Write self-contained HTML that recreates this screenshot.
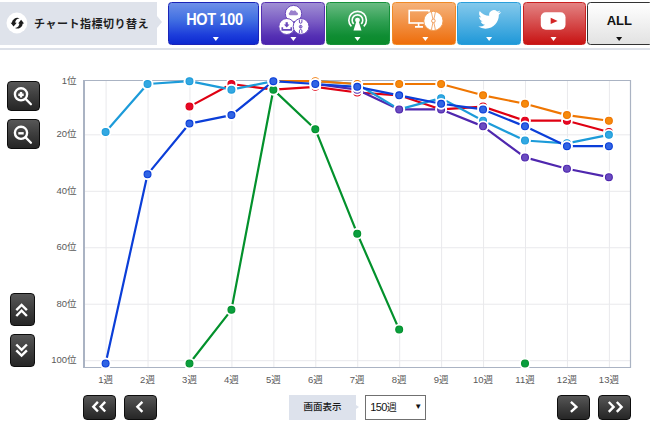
<!DOCTYPE html><html><head><meta charset="utf-8"><title>chart</title><style>
*{margin:0;padding:0;box-sizing:border-box}
html,body{width:650px;height:431px;overflow:hidden;background:#fff}
body{position:relative;font-family:"Liberation Sans","Noto Sans CJK JP",sans-serif}
.abs{position:absolute}
.chart{position:absolute;left:0;top:0}
.ax{font-family:"Liberation Sans","Noto Sans CJK JP",sans-serif;font-size:9.5px;fill:#5a5a5a}
.hdr{left:0;top:2px;width:157px;height:42.5px;background:#dfe3eb}
.hdr-arrow{left:157px;top:16px;width:0;height:0;border-top:6px solid transparent;border-bottom:6px solid transparent;border-left:5px solid #dfe3eb}
.hdrline{left:0;top:47.5px;width:650px;height:2px;background:#dde1e9}
.hdr-t{left:34px;top:14.5px;font-size:11px;font-weight:bold;color:#1e1e1e;white-space:nowrap;font-family:"Liberation Sans","Noto Sans CJK JP",sans-serif;letter-spacing:0.5px}
.btn{top:1.5px;height:43px;border-radius:3.5px;border:1px solid rgba(0,0,0,.25)}
.tri{position:absolute;left:50%;bottom:4px;margin-left:-3px;width:0;height:0;border-left:3.5px solid transparent;border-right:3.5px solid transparent;border-top:4.5px solid #fff}
.b-hot{left:168.2px;width:91.2px;background:linear-gradient(#6e90e8,#4270e2 40%,#1c3ddb 78%,#0c28d0);border-color:#1a24b8}
.b-pur{left:261px;width:63.5px;background:linear-gradient(#a08fd4,#7a5cc4 45%,#5530b4 80%,#4a22ae);border-color:#5530b0}
.b-grn{left:326px;width:64px;background:linear-gradient(#69bb82,#2f9f52 45%,#0f8d33 80%,#0a8a2a);border-color:#16913a}
.b-org{left:392px;width:63.5px;background:linear-gradient(#f5b27a,#ee6d0b);border-color:#f08a25}
.b-tw{left:456.5px;width:64.5px;background:linear-gradient(#84c9ec,#1f98d8);border-color:#2a9fdb}
.b-yt{left:522.5px;width:63.5px;background:linear-gradient(#e38383,#c81313);border-color:#c92020}
.b-all{left:587px;width:66px;background:linear-gradient(#fff,#e2e2e2);border:1.3px solid #333}
.hot-t{position:absolute;left:0;right:0;top:8.5px;padding-left:2px;text-align:center;color:#fff;font-weight:bold;font-size:15.8px;letter-spacing:-0.3px;transform:scaleX(0.915)}
.all-t{position:absolute;left:0;right:0;top:10.3px;text-align:center;color:#111;font-weight:bold;font-size:13px;padding-right:1.4px}
.dk{background:linear-gradient(#575757,#3d3d3d 50%,#262626);border:1.4px solid #0d0d0d;border-radius:4px}
.lbl2{left:289px;top:395px;width:67px;height:24.6px;background:#dde2ec;font-size:9.5px;font-weight:500;color:#1a1a1a;text-align:center;line-height:24.6px}
.lbl2-arrow{left:356px;top:404.5px;border-top:2.8px solid transparent;border-bottom:2.8px solid transparent;border-left:3.5px solid #dde2ec;width:0;height:0}
.sel{left:365px;top:395px;width:61px;height:24.6px;border:1px solid #707070;background:#fff;font-size:11px;color:#111;line-height:22.6px;padding-left:4.3px;letter-spacing:-0.6px}
</style></head><body>
<div class="abs hdr"></div><div class="abs hdr-arrow"></div><div class="abs hdrline"></div>
<div class="abs hdr-t">チャート指標切り替え</div>
<div class="abs btn b-hot"><div class="hot-t">HOT 100</div></div>
<div class="abs btn b-pur"></div><div class="abs btn b-grn"></div><div class="abs btn b-org"></div><div class="abs btn b-tw"></div><div class="abs btn b-yt"></div>
<div class="abs btn b-all"><div class="all-t">ALL</div></div>
<svg class="abs" style="left:0;top:0" width="650" height="50" viewBox="0 0 650 50"><path d="M212.8 37 H218.8 L215.8 41 Z" fill="#fff"/><path d="M290.4 37 H296.4 L293.4 41 Z" fill="#fff"/><path d="M354.5 37 H360.5 L357.5 41 Z" fill="#fff"/><path d="M422.4 37 H428.4 L425.4 41 Z" fill="#fff"/><path d="M486.1 37 H492.1 L489.1 41 Z" fill="#fff"/><path d="M550.5 37 H556.5 L553.5 41 Z" fill="#fff"/><path d="M616.1 37 H622.1 L619.1 41 Z" fill="#111"/><circle cx="293.5" cy="13.6" r="8.2" fill="#fff" stroke="#6a48bb" stroke-width="1"/><circle cx="286.8" cy="26.5" r="8" fill="#fff" stroke="#6a48bb" stroke-width="1"/><circle cx="301.1" cy="26.4" r="7.9" fill="#fff" stroke="#6a48bb" stroke-width="1"/><path d="M289.9 15.3 h6.6 a1.5 1.5 0 0 0 0-3 a2.1 2.1 0 0 0-3.4-1.4 a1.8 1.8 0 0 0-3.2 1.3 a1.6 1.6 0 0 0 0 3.1z" fill="#9a80cc"/><path d="M286.7 22.2v3.6" stroke="#6a48bb" stroke-width="2.2"/><path d="M283.9 24.6h5.6l-2.8 2.9z" fill="#6a48bb"/><path d="M282.3 27.3v2.5h9v-2.5" stroke="#6a48bb" stroke-width="1.7" fill="none"/><g fill="none" stroke="#6a48bb" stroke-width="1"><path d="M299.4 19.6v2.4a1.25 1.25 0 0 0 2.5 0v-2.4"/><circle cx="300.65" cy="26.7" r="1.35"/><path d="M299.4 33v-2.2a1.25 1.25 0 0 1 2.5 0v2.2"/></g><path d="M300.65 25.3v2.8" stroke="#6a48bb" stroke-width="0.8"/><g stroke="#fff" stroke-width="1.6" fill="none"><path d="M351.4 26.4 A8.8 8.8 0 1 1 363.8 26.4"/><path d="M353.7 23.9 A5.3 5.3 0 1 1 361.2 23.9"/></g><circle cx="357.5" cy="20.1" r="2.45" fill="#fff"/><path d="M356.3 21.6 L353.5 30.4 H361.5 L358.7 21.6Z" fill="#fff"/><rect x="409.2" y="10.5" width="20" height="12.5" fill="none" stroke="#fff" stroke-width="1.6"/><path d="M418.6 22.8v3.6 M415 26.9h8" stroke="#fff" stroke-width="1.6"/><circle cx="433.4" cy="20.9" r="9.6" fill="#fff" stroke="#f19a4c" stroke-width="0.9"/><path d="M431.4 12 L432.9 19.1 M435.4 12 L433.9 19.1 M431.4 29.8 L432.9 22.7 M435.4 29.8 L433.9 22.7" stroke="#f0a060" stroke-width="0.9"/><circle cx="433.4" cy="20.9" r="1.8" fill="none" stroke="#f0a060" stroke-width="1"/><path transform="translate(478.3 10.1) scale(0.95)" d="M23.6 2.3c-.9.4-1.8.6-2.8.8 1-.6 1.8-1.6 2.1-2.7-.9.6-2 1-3.1 1.2A4.9 4.9 0 0 0 11.5 6C7.5 5.8 3.9 3.9 1.5.9c-1.3 2.3-.6 5.1 1.5 6.6-.8 0-1.6-.3-2.2-.6 0 2.4 1.7 4.4 3.9 4.9-.7.2-1.5.2-2.2.1.6 2 2.5 3.4 4.6 3.4A9.9 9.9 0 0 1 0 17.3 14 14 0 0 0 7.5 19.5c9.1 0 14.1-7.5 14.1-14.1v-.6c1-.7 1.8-1.6 2.5-2.5z" fill="#fff"/><rect x="540.8" y="12.3" width="24.7" height="17.5" rx="5" fill="#fff"/><path d="M550.7 17.8 L557.6 20.9 L550.7 24Z" fill="#d42525"/><circle cx="16.9" cy="23" r="10.4" fill="#fff"/><path d="M19.6 18.4 A5.6 5.6 0 0 0 11.7 23.3 L15.3 23.3 A4.3 4.3 0 0 1 19.6 18.4Z" fill="#1c1c1c"/><path d="M10.6 22.8 L16.7 22.8 L13.6 26.6Z" fill="#1c1c1c"/><path d="M15.0 28.0 A5.6 5.6 0 0 0 22.9 23.1 L19.3 23.1 A4.3 4.3 0 0 1 15.0 28.0Z" fill="#1c1c1c"/><path d="M24.1 23.5 L18.1 23.5 L21.1 19.8Z" fill="#1c1c1c"/></svg>
<svg class="chart" width="650" height="431" viewBox="0 0 650 431">
<path d="M106.10 80.5V367 M148.04 80.5V367 M189.98 80.5V367 M231.92 80.5V367 M273.86 80.5V367 M315.80 80.5V367 M357.74 80.5V367 M399.68 80.5V367 M441.62 80.5V367 M483.56 80.5V367 M525.50 80.5V367 M567.44 80.5V367 M609.38 80.5V367 M84 134.84H630 M84 191.30H630 M84 247.76H630 M84 304.22H630 M84 360.68H630" stroke="#e9e9ec" stroke-width="1" fill="none"/>
<path d="M84 80.5H630.5V367.5H84" stroke="#aab3c3" stroke-width="1.2" fill="none"/>
<path d="M84 80V368" stroke="#aab3c3" stroke-width="2" fill="none"/>
<text x="76.6" y="84.0" text-anchor="end" class="ax">1位</text>
<text x="76.6" y="137.1" text-anchor="end" class="ax">20位</text>
<text x="76.6" y="193.6" text-anchor="end" class="ax">40位</text>
<text x="76.6" y="250.1" text-anchor="end" class="ax">60位</text>
<text x="76.6" y="306.5" text-anchor="end" class="ax">80位</text>
<text x="76.6" y="363.0" text-anchor="end" class="ax">100位</text>
<text x="105.6" y="383.1" text-anchor="middle" class="ax">1週</text>
<text x="147.5" y="383.1" text-anchor="middle" class="ax">2週</text>
<text x="189.5" y="383.1" text-anchor="middle" class="ax">3週</text>
<text x="231.4" y="383.1" text-anchor="middle" class="ax">4週</text>
<text x="273.4" y="383.1" text-anchor="middle" class="ax">5週</text>
<text x="315.3" y="383.1" text-anchor="middle" class="ax">6週</text>
<text x="357.2" y="383.1" text-anchor="middle" class="ax">7週</text>
<text x="399.2" y="383.1" text-anchor="middle" class="ax">8週</text>
<text x="441.1" y="383.1" text-anchor="middle" class="ax">9週</text>
<text x="483.1" y="383.1" text-anchor="middle" class="ax">10週</text>
<text x="525.0" y="383.1" text-anchor="middle" class="ax">11週</text>
<text x="566.9" y="383.1" text-anchor="middle" class="ax">12週</text>
<text x="608.9" y="383.1" text-anchor="middle" class="ax">13週</text>
<path d="M189.48 106.61 L231.42 84.02 L273.36 89.67 L315.30 86.85 L357.24 92.49 L399.18 95.31 L441.12 109.43 L483.06 106.61 L525.00 120.72 L566.94 120.72 L608.88 132.01" stroke="#df0012" stroke-width="2.2" fill="none" stroke-linejoin="round" stroke-linecap="round"/>
<path d="M315.30 84.02 L357.24 89.67 L399.18 109.43 L441.12 109.43 L483.06 126.37 L525.00 157.42 L566.94 168.71 L608.88 177.18" stroke="#4f27ae" stroke-width="2.2" fill="none" stroke-linejoin="round" stroke-linecap="round"/>
<path d="M105.60 132.01 L147.54 84.02 L189.48 81.20 L231.42 89.67 L273.36 81.20 L315.30 81.20 L357.24 84.02 L399.18 109.43 L441.12 98.14 L483.06 120.72 L525.00 140.48 L566.94 143.31 L608.88 134.84" stroke="#1c9bd9" stroke-width="2.2" fill="none" stroke-linejoin="round" stroke-linecap="round"/>
<path d="M273.36 81.20 L315.30 81.20 L357.24 84.02 L399.18 84.02 L441.12 84.02 L483.06 95.31 L525.00 103.78 L566.94 115.08 L608.88 120.72" stroke="#ef7602" stroke-width="2.2" fill="none" stroke-linejoin="round" stroke-linecap="round"/>
<path d="M105.60 363.50 L147.54 174.36 L189.48 123.55 L231.42 115.08 L273.36 81.20 L315.30 84.02 L357.24 86.85 L399.18 95.31 L441.12 103.78 L483.06 109.43 L525.00 126.37 L566.94 146.13 L608.88 146.13" stroke="#0b3ed8" stroke-width="2.2" fill="none" stroke-linejoin="round" stroke-linecap="round"/>
<path d="M189.48 363.50 L231.42 309.86 L273.36 89.67 L315.30 129.19 L357.24 233.64 L399.18 329.62" stroke="#03912c" stroke-width="2.2" fill="none" stroke-linejoin="round" stroke-linecap="round"/>
<circle cx="189.48" cy="106.61" r="5.9" fill="#fff"/><circle cx="189.48" cy="106.61" r="3.45" fill="#e60628" stroke="#df0012" stroke-width="1.1"/>
<circle cx="231.42" cy="84.02" r="5.9" fill="#fff"/><circle cx="231.42" cy="84.02" r="3.45" fill="#e60628" stroke="#df0012" stroke-width="1.1"/>
<circle cx="273.36" cy="89.67" r="5.9" fill="#fff"/><circle cx="273.36" cy="89.67" r="3.45" fill="#e60628" stroke="#df0012" stroke-width="1.1"/>
<circle cx="315.30" cy="86.85" r="5.9" fill="#fff"/><circle cx="315.30" cy="86.85" r="3.45" fill="#e60628" stroke="#df0012" stroke-width="1.1"/>
<circle cx="357.24" cy="92.49" r="5.9" fill="#fff"/><circle cx="357.24" cy="92.49" r="3.45" fill="#e60628" stroke="#df0012" stroke-width="1.1"/>
<circle cx="399.18" cy="95.31" r="5.9" fill="#fff"/><circle cx="399.18" cy="95.31" r="3.45" fill="#e60628" stroke="#df0012" stroke-width="1.1"/>
<circle cx="441.12" cy="109.43" r="5.9" fill="#fff"/><circle cx="441.12" cy="109.43" r="3.45" fill="#e60628" stroke="#df0012" stroke-width="1.1"/>
<circle cx="483.06" cy="106.61" r="5.9" fill="#fff"/><circle cx="483.06" cy="106.61" r="3.45" fill="#e60628" stroke="#df0012" stroke-width="1.1"/>
<circle cx="525.00" cy="120.72" r="5.9" fill="#fff"/><circle cx="525.00" cy="120.72" r="3.45" fill="#e60628" stroke="#df0012" stroke-width="1.1"/>
<circle cx="566.94" cy="120.72" r="5.9" fill="#fff"/><circle cx="566.94" cy="120.72" r="3.45" fill="#e60628" stroke="#df0012" stroke-width="1.1"/>
<circle cx="608.88" cy="132.01" r="5.9" fill="#fff"/><circle cx="608.88" cy="132.01" r="3.45" fill="#e60628" stroke="#df0012" stroke-width="1.1"/>
<circle cx="105.60" cy="132.01" r="5.9" fill="#fff"/><circle cx="105.60" cy="132.01" r="3.45" fill="#33a8e2" stroke="#1c9bd9" stroke-width="1.1"/>
<circle cx="147.54" cy="84.02" r="5.9" fill="#fff"/><circle cx="147.54" cy="84.02" r="3.45" fill="#33a8e2" stroke="#1c9bd9" stroke-width="1.1"/>
<circle cx="189.48" cy="81.20" r="5.9" fill="#fff"/><circle cx="189.48" cy="81.20" r="3.45" fill="#33a8e2" stroke="#1c9bd9" stroke-width="1.1"/>
<circle cx="231.42" cy="89.67" r="5.9" fill="#fff"/><circle cx="231.42" cy="89.67" r="3.45" fill="#33a8e2" stroke="#1c9bd9" stroke-width="1.1"/>
<circle cx="273.36" cy="81.20" r="5.9" fill="#fff"/><circle cx="273.36" cy="81.20" r="3.45" fill="#33a8e2" stroke="#1c9bd9" stroke-width="1.1"/>
<circle cx="315.30" cy="81.20" r="5.9" fill="#fff"/><circle cx="315.30" cy="81.20" r="3.45" fill="#33a8e2" stroke="#1c9bd9" stroke-width="1.1"/>
<circle cx="357.24" cy="84.02" r="5.9" fill="#fff"/><circle cx="357.24" cy="84.02" r="3.45" fill="#33a8e2" stroke="#1c9bd9" stroke-width="1.1"/>
<circle cx="399.18" cy="109.43" r="5.9" fill="#fff"/><circle cx="399.18" cy="109.43" r="3.45" fill="#33a8e2" stroke="#1c9bd9" stroke-width="1.1"/>
<circle cx="441.12" cy="98.14" r="5.9" fill="#fff"/><circle cx="441.12" cy="98.14" r="3.45" fill="#33a8e2" stroke="#1c9bd9" stroke-width="1.1"/>
<circle cx="483.06" cy="120.72" r="5.9" fill="#fff"/><circle cx="483.06" cy="120.72" r="3.45" fill="#33a8e2" stroke="#1c9bd9" stroke-width="1.1"/>
<circle cx="525.00" cy="140.48" r="5.9" fill="#fff"/><circle cx="525.00" cy="140.48" r="3.45" fill="#33a8e2" stroke="#1c9bd9" stroke-width="1.1"/>
<circle cx="566.94" cy="143.31" r="5.9" fill="#fff"/><circle cx="566.94" cy="143.31" r="3.45" fill="#33a8e2" stroke="#1c9bd9" stroke-width="1.1"/>
<circle cx="608.88" cy="134.84" r="5.9" fill="#fff"/><circle cx="608.88" cy="134.84" r="3.45" fill="#33a8e2" stroke="#1c9bd9" stroke-width="1.1"/>
<circle cx="315.30" cy="84.02" r="5.9" fill="#fff"/><circle cx="315.30" cy="84.02" r="3.45" fill="#6a4cc1" stroke="#4f27ae" stroke-width="1.1"/>
<circle cx="357.24" cy="89.67" r="5.9" fill="#fff"/><circle cx="357.24" cy="89.67" r="3.45" fill="#6a4cc1" stroke="#4f27ae" stroke-width="1.1"/>
<circle cx="399.18" cy="109.43" r="5.9" fill="#fff"/><circle cx="399.18" cy="109.43" r="3.45" fill="#6a4cc1" stroke="#4f27ae" stroke-width="1.1"/>
<circle cx="441.12" cy="109.43" r="5.9" fill="#fff"/><circle cx="441.12" cy="109.43" r="3.45" fill="#6a4cc1" stroke="#4f27ae" stroke-width="1.1"/>
<circle cx="483.06" cy="126.37" r="5.9" fill="#fff"/><circle cx="483.06" cy="126.37" r="3.45" fill="#6a4cc1" stroke="#4f27ae" stroke-width="1.1"/>
<circle cx="525.00" cy="157.42" r="5.9" fill="#fff"/><circle cx="525.00" cy="157.42" r="3.45" fill="#6a4cc1" stroke="#4f27ae" stroke-width="1.1"/>
<circle cx="566.94" cy="168.71" r="5.9" fill="#fff"/><circle cx="566.94" cy="168.71" r="3.45" fill="#6a4cc1" stroke="#4f27ae" stroke-width="1.1"/>
<circle cx="608.88" cy="177.18" r="5.9" fill="#fff"/><circle cx="608.88" cy="177.18" r="3.45" fill="#6a4cc1" stroke="#4f27ae" stroke-width="1.1"/>
<circle cx="273.36" cy="81.20" r="5.9" fill="#fff"/><circle cx="273.36" cy="81.20" r="3.45" fill="#f68a0c" stroke="#ef7602" stroke-width="1.1"/>
<circle cx="315.30" cy="81.20" r="5.9" fill="#fff"/><circle cx="315.30" cy="81.20" r="3.45" fill="#f68a0c" stroke="#ef7602" stroke-width="1.1"/>
<circle cx="357.24" cy="84.02" r="5.9" fill="#fff"/><circle cx="357.24" cy="84.02" r="3.45" fill="#f68a0c" stroke="#ef7602" stroke-width="1.1"/>
<circle cx="399.18" cy="84.02" r="5.9" fill="#fff"/><circle cx="399.18" cy="84.02" r="3.45" fill="#f68a0c" stroke="#ef7602" stroke-width="1.1"/>
<circle cx="441.12" cy="84.02" r="5.9" fill="#fff"/><circle cx="441.12" cy="84.02" r="3.45" fill="#f68a0c" stroke="#ef7602" stroke-width="1.1"/>
<circle cx="483.06" cy="95.31" r="5.9" fill="#fff"/><circle cx="483.06" cy="95.31" r="3.45" fill="#f68a0c" stroke="#ef7602" stroke-width="1.1"/>
<circle cx="525.00" cy="103.78" r="5.9" fill="#fff"/><circle cx="525.00" cy="103.78" r="3.45" fill="#f68a0c" stroke="#ef7602" stroke-width="1.1"/>
<circle cx="566.94" cy="115.08" r="5.9" fill="#fff"/><circle cx="566.94" cy="115.08" r="3.45" fill="#f68a0c" stroke="#ef7602" stroke-width="1.1"/>
<circle cx="608.88" cy="120.72" r="5.9" fill="#fff"/><circle cx="608.88" cy="120.72" r="3.45" fill="#f68a0c" stroke="#ef7602" stroke-width="1.1"/>
<circle cx="189.48" cy="363.50" r="5.9" fill="#fff"/><circle cx="189.48" cy="363.50" r="3.45" fill="#0a9e3e" stroke="#03912c" stroke-width="1.1"/>
<circle cx="231.42" cy="309.86" r="5.9" fill="#fff"/><circle cx="231.42" cy="309.86" r="3.45" fill="#0a9e3e" stroke="#03912c" stroke-width="1.1"/>
<circle cx="273.36" cy="89.67" r="5.9" fill="#fff"/><circle cx="273.36" cy="89.67" r="3.45" fill="#0a9e3e" stroke="#03912c" stroke-width="1.1"/>
<circle cx="315.30" cy="129.19" r="5.9" fill="#fff"/><circle cx="315.30" cy="129.19" r="3.45" fill="#0a9e3e" stroke="#03912c" stroke-width="1.1"/>
<circle cx="357.24" cy="233.64" r="5.9" fill="#fff"/><circle cx="357.24" cy="233.64" r="3.45" fill="#0a9e3e" stroke="#03912c" stroke-width="1.1"/>
<circle cx="399.18" cy="329.62" r="5.9" fill="#fff"/><circle cx="399.18" cy="329.62" r="3.45" fill="#0a9e3e" stroke="#03912c" stroke-width="1.1"/>
<circle cx="525.00" cy="363.50" r="5.9" fill="#fff"/><circle cx="525.00" cy="363.50" r="3.45" fill="#0a9e3e" stroke="#03912c" stroke-width="1.1"/>
<circle cx="105.60" cy="363.50" r="5.9" fill="#fff"/><circle cx="105.60" cy="363.50" r="3.45" fill="#3064e4" stroke="#0b3ed8" stroke-width="1.1"/>
<circle cx="147.54" cy="174.36" r="5.9" fill="#fff"/><circle cx="147.54" cy="174.36" r="3.45" fill="#3064e4" stroke="#0b3ed8" stroke-width="1.1"/>
<circle cx="189.48" cy="123.55" r="5.9" fill="#fff"/><circle cx="189.48" cy="123.55" r="3.45" fill="#3064e4" stroke="#0b3ed8" stroke-width="1.1"/>
<circle cx="231.42" cy="115.08" r="5.9" fill="#fff"/><circle cx="231.42" cy="115.08" r="3.45" fill="#3064e4" stroke="#0b3ed8" stroke-width="1.1"/>
<circle cx="273.36" cy="81.20" r="5.9" fill="#fff"/><circle cx="273.36" cy="81.20" r="3.45" fill="#3064e4" stroke="#0b3ed8" stroke-width="1.1"/>
<circle cx="315.30" cy="84.02" r="5.9" fill="#fff"/><circle cx="315.30" cy="84.02" r="3.45" fill="#3064e4" stroke="#0b3ed8" stroke-width="1.1"/>
<circle cx="357.24" cy="86.85" r="5.9" fill="#fff"/><circle cx="357.24" cy="86.85" r="3.45" fill="#3064e4" stroke="#0b3ed8" stroke-width="1.1"/>
<circle cx="399.18" cy="95.31" r="5.9" fill="#fff"/><circle cx="399.18" cy="95.31" r="3.45" fill="#3064e4" stroke="#0b3ed8" stroke-width="1.1"/>
<circle cx="441.12" cy="103.78" r="5.9" fill="#fff"/><circle cx="441.12" cy="103.78" r="3.45" fill="#3064e4" stroke="#0b3ed8" stroke-width="1.1"/>
<circle cx="483.06" cy="109.43" r="5.9" fill="#fff"/><circle cx="483.06" cy="109.43" r="3.45" fill="#3064e4" stroke="#0b3ed8" stroke-width="1.1"/>
<circle cx="525.00" cy="126.37" r="5.9" fill="#fff"/><circle cx="525.00" cy="126.37" r="3.45" fill="#3064e4" stroke="#0b3ed8" stroke-width="1.1"/>
<circle cx="566.94" cy="146.13" r="5.9" fill="#fff"/><circle cx="566.94" cy="146.13" r="3.45" fill="#3064e4" stroke="#0b3ed8" stroke-width="1.1"/>
<circle cx="608.88" cy="146.13" r="5.9" fill="#fff"/><circle cx="608.88" cy="146.13" r="3.45" fill="#3064e4" stroke="#0b3ed8" stroke-width="1.1"/>
</svg>
<div class="abs dk" style="left:6.5px;top:80.5px;width:33px;height:30px"></div>
<div class="abs dk" style="left:6.5px;top:119px;width:33px;height:30px"></div>
<div class="abs dk" style="left:10px;top:293px;width:24.5px;height:33px"></div>
<div class="abs dk" style="left:10px;top:334px;width:24.5px;height:33px"></div>
<div class="abs dk" style="left:83px;top:395px;width:33px;height:24.5px"></div>
<div class="abs dk" style="left:124px;top:395px;width:33px;height:24.5px"></div>
<div class="abs dk" style="left:557px;top:395px;width:33px;height:24.5px"></div>
<div class="abs dk" style="left:598px;top:395px;width:33px;height:24.5px"></div>
<svg class="abs" style="left:0;top:0" width="650" height="431" viewBox="0 0 650 431"><circle cx="21" cy="94.3" r="6.1" stroke="#fff" stroke-width="2.4" fill="none"/><path d="M25.6 98.9 L30.9 104.2" stroke="#fff" stroke-width="2.3" stroke-linecap="round"/><path d="M18.3 94.8h5.4 M21.0 92.1v5.4" stroke="#fff" stroke-width="2.4"/><circle cx="21" cy="132.8" r="6.1" stroke="#fff" stroke-width="2.4" fill="none"/><path d="M25.6 137.4 L30.9 142.7" stroke="#fff" stroke-width="2.3" stroke-linecap="round"/><path d="M18.3 133.3h5.4" stroke="#fff" stroke-width="2.4"/><g stroke="#fff" stroke-width="2.4" fill="none" stroke-linejoin="miter"><path d="M16.3 315.6 L21.6 310.3 L26.9 315.6 M16.3 321.4 L21.6 316.1 L26.9 321.4" transform="translate(0 -5.4)"/><path d="M16.3 344.5 L21.6 349.8 L26.9 344.5 M16.3 350.3 L21.6 355.6 L26.9 350.3"/><path d="M97.90 401.90 L93.30 406.70 L97.90 411.50 M105.20 401.90 L100.60 406.70 L105.20 411.50"/><path d="M142.40 401.80 L137.40 406.80 L142.40 411.80"/><path d="M570.90 401.90 L576.40 406.90 L570.90 411.90"/><path d="M608.80 402.00 L613.60 406.90 L608.80 411.80 M616.80 402.00 L621.60 406.90 L616.80 411.80"/></g></svg>
<div class="abs lbl2">画面表示</div><div class="abs lbl2-arrow"></div>
<div class="abs sel">150<span style="font-size:10px;letter-spacing:0">週</span><span style="position:absolute;left:48.3px;top:0.3px;font-size:8px;letter-spacing:0">▼</span></div>
</body></html>
